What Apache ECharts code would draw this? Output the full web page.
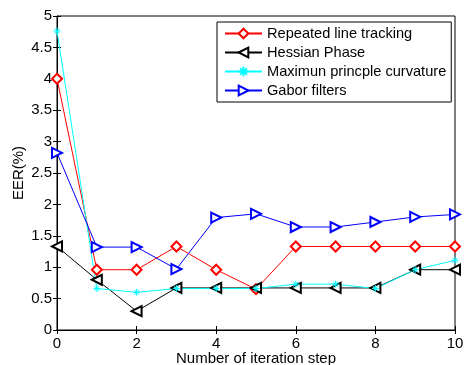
<!DOCTYPE html>
<html lang="en">
<head>
  <meta charset="UTF-8">
  <title>EER vs iteration step</title>
  <script src="https://cdn.jsdelivr.net/npm/echarts@6/dist/echarts.min.js"></script>
  <style>
    html, body { margin: 0; padding: 0; background: white; }
    #chart { width: 464px; height: 365px; }
  </style>
</head>
<body>
<div id="chart"></div>
<script>
  const steps = [0, 1, 2, 3, 4, 5, 6, 7, 8, 9, 10];
  const repeatedLine = [4.0, 0.96, 0.96, 1.33, 0.96, 0.65, 1.33, 1.33, 1.33, 1.33, 1.33];
  const hessianPhase = [1.33, 0.8, 0.3, 0.67, 0.67, 0.67, 0.67, 0.67, 0.67, 0.96, 0.96];
  const maxCurvature = [4.76, 0.66, 0.6, 0.66, 0.66, 0.66, 0.73, 0.73, 0.66, 0.96, 1.11];
  const gaborFilters = [2.82, 1.32, 1.32, 0.97, 1.79, 1.85, 1.64, 1.64, 1.72, 1.8, 1.84];

  const font = "Liberation Sans, Arial, sans-serif";
  const asterisk = "path://M0,-10L0,10M-10,0L10,0M-7,-7L7,7M-7,7L7,-7";

  function pairs(vals) {
    return steps.map((s, i) => [s, vals[i]]);
  }

  function lineSeries(name, vals, color, symbol, rotate, size) {
    return {
      name: name,
      type: "line",
      data: pairs(vals),
      symbol: symbol,
      symbolSize: size,
      symbolRotate: rotate,
      showAllSymbol: true,
      lineStyle: { color: color, width: 1 },
      itemStyle: { color: color, borderColor: color, borderWidth: 1 }
    };
  }

  const chart = echarts.init(document.getElementById("chart"), null, { renderer: "canvas" });

  const tickStyle = { show: true, inside: true, length: 4, lineStyle: { color: "#000" } };

  chart.setOption({
    backgroundColor: "#fff",
    animation: false,
    textStyle: { fontFamily: font, color: "#000" },
    grid: {
      left: 57, right: 9, top: 16, bottom: 35,
      outerBoundsMode: "none", containLabel: false,
      show: true, borderColor: "#000", borderWidth: 1, backgroundColor: "transparent"
    },
    legend: {
      orient: "vertical",
      left: 217, top: 22,
      padding: [4, 5, 4, 7],
      itemWidth: 37, itemHeight: 12, itemGap: 4,
      borderColor: "#000", borderWidth: 1,
      backgroundColor: "#fff",
      textStyle: { fontFamily: font, fontSize: 14.6, color: "#000", lineHeight: 15 },
      data: ["Repeated line tracking", "Hessian Phase", "Maximun princple curvature", "Gabor filters"]
    },
    xAxis: [{
      type: "value", min: 0, max: 10, interval: 2,
      name: "Number of iteration step", nameLocation: "middle", nameGap: 21,
      nameMoveOverlap: false,
      nameTextStyle: { fontFamily: font, fontSize: 15, color: "#000" },
      axisLine: { show: true, lineStyle: { color: "#000" } },
      axisTick: tickStyle,
      axisLabel: { fontFamily: font, fontSize: 15, color: "#000", margin: 6 },
      splitLine: { show: false }
    }, {
      type: "value", min: 0, max: 10, interval: 2, position: "top",
      axisLine: { show: false },
      axisTick: tickStyle,
      axisLabel: { show: false },
      splitLine: { show: false }
    }],
    yAxis: [{
      type: "value", min: 0, max: 5, interval: 0.5,
      name: "EER(%)", nameLocation: "middle", nameGap: 31, nameRotate: 90,
      nameMoveOverlap: false,
      nameTextStyle: { fontFamily: font, fontSize: 15, color: "#000" },
      axisLine: { show: true, lineStyle: { color: "#000" } },
      axisTick: tickStyle,
      axisLabel: { fontFamily: font, fontSize: 15, color: "#000", margin: 5 },
      splitLine: { show: false }
    }, {
      type: "value", min: 0, max: 5, interval: 0.5, position: "right",
      axisLine: { show: false },
      axisTick: tickStyle,
      axisLabel: { show: false },
      splitLine: { show: false }
    }],
    series: [
      lineSeries("Repeated line tracking", repeatedLine, "#ff0000", "emptyDiamond", 0, 10),
      lineSeries("Hessian Phase", hessianPhase, "#000000", "emptyTriangle", 90, 10),
      lineSeries("Maximun princple curvature", maxCurvature, "#00ffff", asterisk, 0, 7),
      lineSeries("Gabor filters", gaborFilters, "#0000ff", "emptyTriangle", -90, 10)
    ]
  });
</script>
</body>
</html>
